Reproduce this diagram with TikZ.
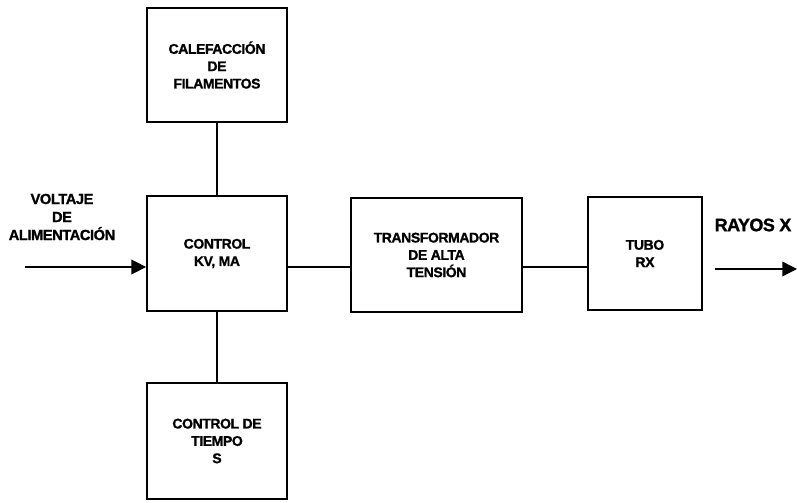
\documentclass[tikz,border=0pt]{standalone}
\usepackage{fontspec}
\setmainfont{Liberation Sans}[BoldFeatures={FakeBold=1.2, LetterSpace=-3}]
\usepackage{tikz}
\usetikzlibrary{arrows.meta, positioning}

\tikzset{
    block/.style={draw, line width=1.3pt, inner sep=0pt, align=center,
        font=\fontsize{10.5}{13}\selectfont\bfseries},
    wire/.style={line width=1pt},
    label/.style={align=center, font=\fontsize{11}{13.5}\selectfont\bfseries}
}

\begin{document}
\begin{tikzpicture}[x=0.75pt, y=0.75pt]
    \useasboundingbox (0,0) rectangle (797,503);

    % Blocks
    \node[block, minimum width=105pt, minimum height=85.5pt] (heat) at (217,438)
        {CALEFACCIÓN\\DE\\FILAMENTOS};
    \node[block, minimum width=105pt, minimum height=86.25pt] (ctrl) at (217,249.5)
        {CONTROL\\KV, MA};
    \node[block, minimum width=105pt, minimum height=87pt] (time) at (217,62)
        {CONTROL DE\\TIEMPO\\S};
    \node[block, minimum width=128.25pt, minimum height=85.5pt] (trafo) at (436.5,248)
        {TRANSFORMADOR\\DE ALTA\\TENSIÓN};
    \node[block, minimum width=85.5pt, minimum height=84.75pt] (tubo) at (645,249.5)
        {TUBO\\RX};

    % Input and output
    \coordinate (in) at (25,236);
    \coordinate (out) at (797,234);
    \node[label] (vin) at (62,286) {VOLTAJE\\DE\\ALIMENTACIÓN};
    \node[label, font=\fontsize{13.5}{16}\selectfont\bfseries] (rx) at (753,278) {RAYOS X};

    % Connections
    \draw[wire, -{Triangle[length=11pt, width=11pt]}] (in) -- (ctrl.west |- in);
    \draw[wire] (heat.south) -- (ctrl.north);
    \draw[wire] (ctrl.south) -- (time.north);
    \draw[wire] (ctrl.east |- in) -- (trafo.west |- in);
    \draw[wire] (trafo.east |- in) -- (tubo.west |- in);
    \draw[wire, -{Triangle[length=11pt, width=11pt]}] ([xshift=9pt]tubo.east |- out) -- (out);
\end{tikzpicture}
\end{document}
